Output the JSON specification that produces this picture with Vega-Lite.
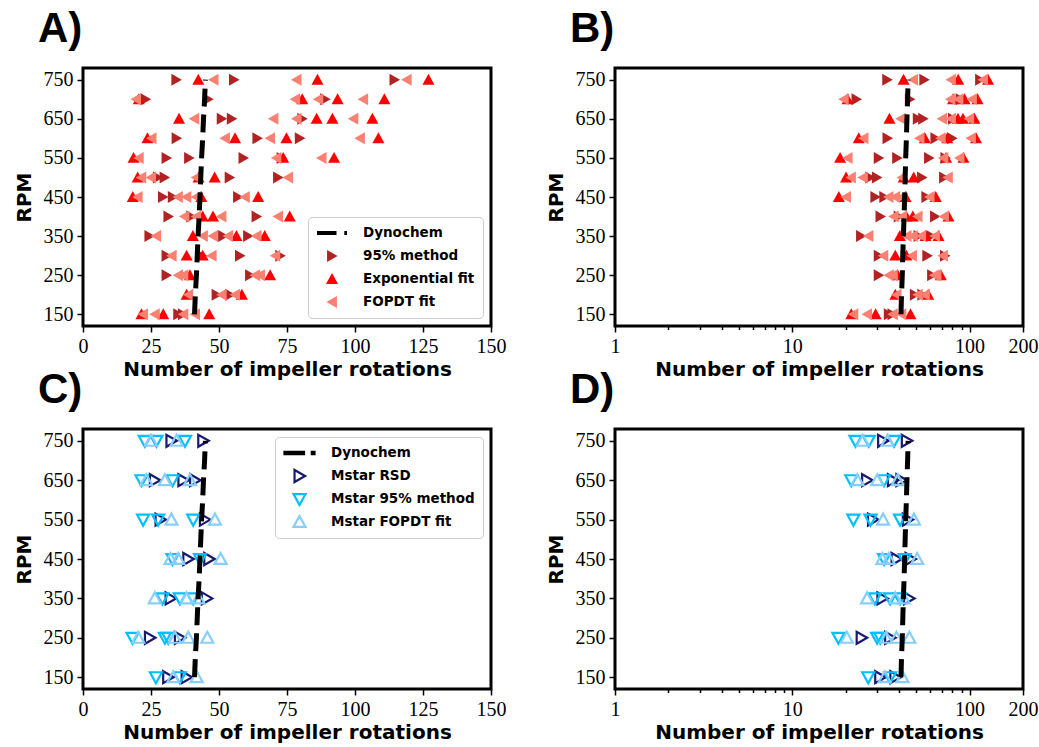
{
  "$schema": "https://vega.github.io/schema/vega-lite/v6.json",
  "background": "white",
  "padding": {"left": 12, "top": 6, "right": 5, "bottom": 3},
  "datasets": {
    "red": [
      {"rpm": 750, "n": 34.3, "m": "95% method"}, {"rpm": 750, "n": 55.5, "m": "95% method"}, {"rpm": 750, "n": 114.5, "m": "95% method"},
      {"rpm": 700, "n": 23, "m": "95% method"}, {"rpm": 700, "n": 46, "m": "95% method"}, {"rpm": 700, "n": 89, "m": "95% method"},
      {"rpm": 650, "n": 51, "m": "95% method"}, {"rpm": 650, "n": 54.7, "m": "95% method"}, {"rpm": 650, "n": 80.6, "m": "95% method"},
      {"rpm": 600, "n": 34.4, "m": "95% method"}, {"rpm": 600, "n": 64.1, "m": "95% method"}, {"rpm": 600, "n": 79.7, "m": "95% method"},
      {"rpm": 550, "n": 30.7, "m": "95% method"}, {"rpm": 550, "n": 39, "m": "95% method"}, {"rpm": 550, "n": 59, "m": "95% method"}, {"rpm": 550, "n": 73, "m": "95% method"},
      {"rpm": 500, "n": 27.5, "m": "95% method"}, {"rpm": 500, "n": 30, "m": "95% method"}, {"rpm": 500, "n": 53.9, "m": "95% method"}, {"rpm": 500, "n": 71.7, "m": "95% method"},
      {"rpm": 450, "n": 29.4, "m": "95% method"}, {"rpm": 450, "n": 33, "m": "95% method"}, {"rpm": 450, "n": 57, "m": "95% method"},
      {"rpm": 400, "n": 31.4, "m": "95% method"}, {"rpm": 400, "n": 39.8, "m": "95% method"}, {"rpm": 400, "n": 63.8, "m": "95% method"},
      {"rpm": 350, "n": 24.4, "m": "95% method"}, {"rpm": 350, "n": 51.5, "m": "95% method"}, {"rpm": 350, "n": 60.7, "m": "95% method"},
      {"rpm": 300, "n": 30.7, "m": "95% method"}, {"rpm": 300, "n": 43.6, "m": "95% method"}, {"rpm": 300, "n": 57.7, "m": "95% method"}, {"rpm": 300, "n": 72.5, "m": "95% method"},
      {"rpm": 250, "n": 30.7, "m": "95% method"}, {"rpm": 250, "n": 61.4, "m": "95% method"},
      {"rpm": 200, "n": 49.1, "m": "95% method"}, {"rpm": 200, "n": 54.1, "m": "95% method"},
      {"rpm": 150, "n": 35, "m": "95% method"}, {"rpm": 150, "n": 36.7, "m": "95% method"},

      {"rpm": 750, "n": 42.4, "m": "Exponential fit"}, {"rpm": 750, "n": 86.2, "m": "Exponential fit"}, {"rpm": 750, "n": 127, "m": "Exponential fit"},
      {"rpm": 700, "n": 20.5, "m": "Exponential fit"}, {"rpm": 700, "n": 80.6, "m": "Exponential fit"}, {"rpm": 700, "n": 93.6, "m": "Exponential fit"}, {"rpm": 700, "n": 110.8, "m": "Exponential fit"},
      {"rpm": 650, "n": 35.3, "m": "Exponential fit"}, {"rpm": 650, "n": 85.9, "m": "Exponential fit"}, {"rpm": 650, "n": 91.7, "m": "Exponential fit"}, {"rpm": 650, "n": 106.4, "m": "Exponential fit"},
      {"rpm": 600, "n": 23.7, "m": "Exponential fit"}, {"rpm": 600, "n": 55.9, "m": "Exponential fit"}, {"rpm": 600, "n": 74.8, "m": "Exponential fit"}, {"rpm": 600, "n": 108.6, "m": "Exponential fit"},
      {"rpm": 550, "n": 18.6, "m": "Exponential fit"}, {"rpm": 550, "n": 73.6, "m": "Exponential fit"}, {"rpm": 550, "n": 92.3, "m": "Exponential fit"},
      {"rpm": 500, "n": 20.1, "m": "Exponential fit"}, {"rpm": 500, "n": 42.5, "m": "Exponential fit"}, {"rpm": 500, "n": 48.4, "m": "Exponential fit"},
      {"rpm": 450, "n": 18.3, "m": "Exponential fit"}, {"rpm": 450, "n": 43.5, "m": "Exponential fit"}, {"rpm": 450, "n": 64.4, "m": "Exponential fit"},
      {"rpm": 400, "n": 44, "m": "Exponential fit"}, {"rpm": 400, "n": 47.8, "m": "Exponential fit"}, {"rpm": 400, "n": 76, "m": "Exponential fit"},
      {"rpm": 350, "n": 40.4, "m": "Exponential fit"}, {"rpm": 350, "n": 56.4, "m": "Exponential fit"}, {"rpm": 350, "n": 66.8, "m": "Exponential fit"},
      {"rpm": 300, "n": 38.1, "m": "Exponential fit"}, {"rpm": 300, "n": 44, "m": "Exponential fit"},
      {"rpm": 250, "n": 39.3, "m": "Exponential fit"}, {"rpm": 250, "n": 68.8, "m": "Exponential fit"},
      {"rpm": 200, "n": 38.1, "m": "Exponential fit"}, {"rpm": 200, "n": 58.4, "m": "Exponential fit"},
      {"rpm": 150, "n": 21.5, "m": "Exponential fit"}, {"rpm": 150, "n": 29.5, "m": "Exponential fit"}, {"rpm": 150, "n": 46.4, "m": "Exponential fit"},

      {"rpm": 750, "n": 48, "m": "FOPDT fit"}, {"rpm": 750, "n": 78.5, "m": "FOPDT fit"}, {"rpm": 750, "n": 119, "m": "FOPDT fit"},
      {"rpm": 700, "n": 19.5, "m": "FOPDT fit"}, {"rpm": 700, "n": 78, "m": "FOPDT fit"}, {"rpm": 700, "n": 86.5, "m": "FOPDT fit"}, {"rpm": 700, "n": 103, "m": "FOPDT fit"},
      {"rpm": 650, "n": 40.9, "m": "FOPDT fit"}, {"rpm": 650, "n": 70, "m": "FOPDT fit"}, {"rpm": 650, "n": 78.5, "m": "FOPDT fit"}, {"rpm": 650, "n": 99.4, "m": "FOPDT fit"},
      {"rpm": 600, "n": 25.2, "m": "FOPDT fit"}, {"rpm": 600, "n": 52.2, "m": "FOPDT fit"}, {"rpm": 600, "n": 68.8, "m": "FOPDT fit"}, {"rpm": 600, "n": 101.8, "m": "FOPDT fit"},
      {"rpm": 550, "n": 20.5, "m": "FOPDT fit"}, {"rpm": 550, "n": 71.1, "m": "FOPDT fit"}, {"rpm": 550, "n": 87.7, "m": "FOPDT fit"},
      {"rpm": 500, "n": 21.4, "m": "FOPDT fit"}, {"rpm": 500, "n": 25, "m": "FOPDT fit"}, {"rpm": 500, "n": 41.6, "m": "FOPDT fit"}, {"rpm": 500, "n": 75.4, "m": "FOPDT fit"},
      {"rpm": 450, "n": 20.1, "m": "FOPDT fit"}, {"rpm": 450, "n": 34.9, "m": "FOPDT fit"}, {"rpm": 450, "n": 38, "m": "FOPDT fit"}, {"rpm": 450, "n": 41.6, "m": "FOPDT fit"}, {"rpm": 450, "n": 59.5, "m": "FOPDT fit"},
      {"rpm": 400, "n": 37.3, "m": "FOPDT fit"}, {"rpm": 400, "n": 41.6, "m": "FOPDT fit"}, {"rpm": 400, "n": 50.9, "m": "FOPDT fit"}, {"rpm": 400, "n": 71.7, "m": "FOPDT fit"},
      {"rpm": 350, "n": 26.9, "m": "FOPDT fit"}, {"rpm": 350, "n": 44.1, "m": "FOPDT fit"}, {"rpm": 350, "n": 47.8, "m": "FOPDT fit"}, {"rpm": 350, "n": 53.3, "m": "FOPDT fit"}, {"rpm": 350, "n": 63.8, "m": "FOPDT fit"},
      {"rpm": 300, "n": 32.6, "m": "FOPDT fit"}, {"rpm": 300, "n": 47.3, "m": "FOPDT fit"}, {"rpm": 300, "n": 70.7, "m": "FOPDT fit"},
      {"rpm": 250, "n": 35, "m": "FOPDT fit"}, {"rpm": 250, "n": 36.9, "m": "FOPDT fit"}, {"rpm": 250, "n": 63.3, "m": "FOPDT fit"}, {"rpm": 250, "n": 65.1, "m": "FOPDT fit"},
      {"rpm": 200, "n": 38.7, "m": "FOPDT fit"}, {"rpm": 200, "n": 51, "m": "FOPDT fit"}, {"rpm": 200, "n": 55.9, "m": "FOPDT fit"},
      {"rpm": 150, "n": 22.1, "m": "FOPDT fit"}, {"rpm": 150, "n": 26.4, "m": "FOPDT fit"}, {"rpm": 150, "n": 36.9, "m": "FOPDT fit"}, {"rpm": 150, "n": 41.2, "m": "FOPDT fit"}
    ],
    "blue": [
      {"rpm": 750, "n": 32.5, "m": "Mstar RSD"}, {"rpm": 750, "n": 44.2, "m": "Mstar RSD"},
      {"rpm": 650, "n": 26.4, "m": "Mstar RSD"}, {"rpm": 650, "n": 36.9, "m": "Mstar RSD"}, {"rpm": 650, "n": 41.2, "m": "Mstar RSD"},
      {"rpm": 550, "n": 28.5, "m": "Mstar RSD"}, {"rpm": 550, "n": 44.8, "m": "Mstar RSD"},
      {"rpm": 450, "n": 38.7, "m": "Mstar RSD"}, {"rpm": 450, "n": 46.4, "m": "Mstar RSD"},
      {"rpm": 350, "n": 32.2, "m": "Mstar RSD"}, {"rpm": 350, "n": 45.5, "m": "Mstar RSD"},
      {"rpm": 250, "n": 24.6, "m": "Mstar RSD"}, {"rpm": 250, "n": 35.6, "m": "Mstar RSD"},
      {"rpm": 150, "n": 31.3, "m": "Mstar RSD"}, {"rpm": 150, "n": 38.1, "m": "Mstar RSD"},

      {"rpm": 750, "n": 22.7, "m": "Mstar 95% method"}, {"rpm": 750, "n": 27, "m": "Mstar 95% method"}, {"rpm": 750, "n": 37.5, "m": "Mstar 95% method"},
      {"rpm": 650, "n": 21.5, "m": "Mstar 95% method"}, {"rpm": 650, "n": 32.9, "m": "Mstar 95% method"},
      {"rpm": 550, "n": 22.1, "m": "Mstar 95% method"}, {"rpm": 550, "n": 27.6, "m": "Mstar 95% method"}, {"rpm": 550, "n": 40.5, "m": "Mstar 95% method"},
      {"rpm": 450, "n": 32.9, "m": "Mstar 95% method"}, {"rpm": 450, "n": 43, "m": "Mstar 95% method"},
      {"rpm": 350, "n": 29.2, "m": "Mstar 95% method"}, {"rpm": 350, "n": 35.6, "m": "Mstar 95% method"}, {"rpm": 350, "n": 40.5, "m": "Mstar 95% method"},
      {"rpm": 250, "n": 18.2, "m": "Mstar 95% method"}, {"rpm": 250, "n": 30.1, "m": "Mstar 95% method"}, {"rpm": 250, "n": 31.3, "m": "Mstar 95% method"},
      {"rpm": 150, "n": 26.8, "m": "Mstar 95% method"}, {"rpm": 150, "n": 35.6, "m": "Mstar 95% method"},

      {"rpm": 750, "n": 25, "m": "Mstar FOPDT fit"}, {"rpm": 750, "n": 34.4, "m": "Mstar FOPDT fit"},
      {"rpm": 650, "n": 23.3, "m": "Mstar FOPDT fit"}, {"rpm": 650, "n": 30.1, "m": "Mstar FOPDT fit"}, {"rpm": 650, "n": 39.3, "m": "Mstar FOPDT fit"},
      {"rpm": 550, "n": 32.5, "m": "Mstar FOPDT fit"}, {"rpm": 550, "n": 48.5, "m": "Mstar FOPDT fit"},
      {"rpm": 450, "n": 32.2, "m": "Mstar FOPDT fit"}, {"rpm": 450, "n": 35, "m": "Mstar FOPDT fit"}, {"rpm": 450, "n": 50.6, "m": "Mstar FOPDT fit"},
      {"rpm": 350, "n": 26.4, "m": "Mstar FOPDT fit"}, {"rpm": 350, "n": 38.1, "m": "Mstar FOPDT fit"}, {"rpm": 350, "n": 42.4, "m": "Mstar FOPDT fit"},
      {"rpm": 250, "n": 20.3, "m": "Mstar FOPDT fit"}, {"rpm": 250, "n": 33.8, "m": "Mstar FOPDT fit"}, {"rpm": 250, "n": 38.7, "m": "Mstar FOPDT fit"}, {"rpm": 250, "n": 45.7, "m": "Mstar FOPDT fit"},
      {"rpm": 150, "n": 33.2, "m": "Mstar FOPDT fit"}, {"rpm": 150, "n": 41.8, "m": "Mstar FOPDT fit"}
    ],
    "dyn": [
      {"rpm": 150, "n": 41}, {"rpm": 200, "n": 41.3}, {"rpm": 250, "n": 41.7}, {"rpm": 300, "n": 42},
      {"rpm": 350, "n": 42.3}, {"rpm": 400, "n": 42.7}, {"rpm": 450, "n": 43}, {"rpm": 500, "n": 43.3},
      {"rpm": 550, "n": 43.6}, {"rpm": 600, "n": 44}, {"rpm": 650, "n": 44.3}, {"rpm": 700, "n": 44.7}, {"rpm": 750, "n": 45}
    ]
  },
  "columns": 2,
  "spacing": {"row": 103, "column": 124},
  "bounds": "flush",
  "resolve": {"scale": {"x": "independent", "y": "independent", "color": "independent", "shape": "independent"}, "legend": {"color": "independent", "shape": "independent"}},
  "concat": [
    {
      "title": {"text": "A)"},
      "width": 408, "height": 258,
      "layer": [
        {
          "data": {"name": "red"},
          "mark": {"type": "point", "filled": true, "size": 900, "opacity": 1},
          "encoding": {
            "x": {"field": "n", "type": "quantitative", "scale": {"domain": [0, 150], "nice": false}, "axis": {"values": [0, 25, 50, 75, 100, 125, 150], "title": "Number of impeller rotations"}},
            "y": {"field": "rpm", "type": "quantitative", "scale": {"domain": [120, 780], "nice": false, "zero": false}, "axis": {"values": [150, 250, 350, 450, 550, 650, 750], "title": "RPM"}},
            "color": {"field": "m", "type": "nominal", "sort": null, "scale": {"domain": ["Dynochem", "95% method", "Exponential fit", "FOPDT fit"], "range": ["black", "#B22222", "#FF0000", "#FA8072"]}, "legend": {"title": null, "orient": "bottom-right", "offset": 8}},
            "shape": {"field": "m", "type": "nominal", "sort": null, "scale": {"domain": ["Dynochem", "95% method", "Exponential fit", "FOPDT fit"], "range": ["M-1,-0.14H0.3V0.14H-1Z M0.82,-0.14H1V0.14H0.82Z", "M0.37,0L-0.33,-0.4L-0.33,0.4Z", "M0,-0.4L0.4,0.33L-0.4,0.33Z", "M-0.37,0L0.33,-0.4L0.33,0.4Z"]}, "legend": {"title": null, "orient": "bottom-right", "offset": 8}}
          }
        },
        {
          "data": {"name": "dyn"},
          "mark": {"type": "line", "color": "black", "strokeWidth": 5, "strokeDash": [18, 8], "strokeCap": "butt"},
          "encoding": {"x": {"field": "n", "type": "quantitative"}, "y": {"field": "rpm", "type": "quantitative"}, "order": {"field": "rpm", "type": "quantitative"}}
        }
      ]
    },
    {
      "title": {"text": "B)"},
      "width": 408, "height": 258,
      "layer": [
        {
          "data": {"name": "red"},
          "mark": {"type": "point", "filled": true, "size": 900, "opacity": 1},
          "encoding": {
            "x": {"field": "n", "type": "quantitative", "scale": {"type": "log", "domain": [1, 200], "nice": false}, "axis": {"values": [1, 2, 3, 4, 5, 6, 7, 8, 9, 10, 20, 30, 40, 50, 60, 70, 80, 90, 100, 200], "format": "d", "labelExpr": "indexof([1,10,100,200], datum.value) >= 0 ? datum.label : ''", "tickSize": {"condition": {"test": "indexof([1,10,100,200], datum.value) >= 0", "value": 6}, "value": 3.5}, "title": "Number of impeller rotations"}},
            "y": {"field": "rpm", "type": "quantitative", "scale": {"domain": [120, 780], "nice": false, "zero": false}, "axis": {"values": [150, 250, 350, 450, 550, 650, 750], "title": "RPM"}},
            "color": {"field": "m", "type": "nominal", "sort": null, "scale": {"domain": ["Dynochem", "95% method", "Exponential fit", "FOPDT fit"], "range": ["black", "#B22222", "#FF0000", "#FA8072"]}, "legend": null},
            "shape": {"field": "m", "type": "nominal", "sort": null, "scale": {"domain": ["Dynochem", "95% method", "Exponential fit", "FOPDT fit"], "range": ["M-1,-0.14H0.3V0.14H-1Z M0.82,-0.14H1V0.14H0.82Z", "M0.37,0L-0.33,-0.4L-0.33,0.4Z", "M0,-0.4L0.4,0.33L-0.4,0.33Z", "M-0.37,0L0.33,-0.4L0.33,0.4Z"]}, "legend": null}
          }
        },
        {
          "data": {"name": "dyn"},
          "mark": {"type": "line", "color": "black", "strokeWidth": 5, "strokeDash": [18, 8], "strokeCap": "butt"},
          "encoding": {"x": {"field": "n", "type": "quantitative"}, "y": {"field": "rpm", "type": "quantitative"}, "order": {"field": "rpm", "type": "quantitative"}}
        }
      ]
    },
    {
      "title": {"text": "C)"},
      "width": 408, "height": 260,
      "layer": [
        {
          "data": {"name": "blue"},
          "mark": {"type": "point", "filled": false, "size": 900, "opacity": 1, "strokeWidth": 2.2},
          "encoding": {
            "x": {"field": "n", "type": "quantitative", "scale": {"domain": [0, 150], "nice": false}, "axis": {"values": [0, 25, 50, 75, 100, 125, 150], "title": "Number of impeller rotations"}},
            "y": {"field": "rpm", "type": "quantitative", "scale": {"domain": [120, 780], "nice": false, "zero": false}, "axis": {"values": [150, 250, 350, 450, 550, 650, 750], "title": "RPM"}},
            "color": {"field": "m", "type": "nominal", "sort": null, "scale": {"domain": ["Dynochem", "Mstar RSD", "Mstar 95% method", "Mstar FOPDT fit"], "range": ["black", "#191970", "#00BFFF", "#87CEFA"]}, "legend": {"title": null, "orient": "top-right", "offset": 8, "symbolStrokeWidth": 2.2}},
            "shape": {"field": "m", "type": "nominal", "sort": null, "scale": {"domain": ["Dynochem", "Mstar RSD", "Mstar 95% method", "Mstar FOPDT fit"], "range": ["M-1,-0.07H0.3V0.07H-1Z M0.82,-0.07H1V0.07H0.82Z", "M0.37,0L-0.33,-0.4L-0.33,0.4Z", "M0,0.4L0.4,-0.33L-0.4,-0.33Z", "M0,-0.4L0.4,0.33L-0.4,0.33Z"]}, "legend": {"title": null, "orient": "top-right", "offset": 8, "symbolStrokeWidth": 2.2}}
          }
        },
        {
          "data": {"name": "dyn"},
          "mark": {"type": "line", "color": "black", "strokeWidth": 5, "strokeDash": [18, 8], "strokeCap": "butt"},
          "encoding": {"x": {"field": "n", "type": "quantitative"}, "y": {"field": "rpm", "type": "quantitative"}, "order": {"field": "rpm", "type": "quantitative"}}
        }
      ]
    },
    {
      "title": {"text": "D)"},
      "width": 408, "height": 260,
      "layer": [
        {
          "data": {"name": "blue"},
          "mark": {"type": "point", "filled": false, "size": 900, "opacity": 1, "strokeWidth": 2.2},
          "encoding": {
            "x": {"field": "n", "type": "quantitative", "scale": {"type": "log", "domain": [1, 200], "nice": false}, "axis": {"values": [1, 2, 3, 4, 5, 6, 7, 8, 9, 10, 20, 30, 40, 50, 60, 70, 80, 90, 100, 200], "format": "d", "labelExpr": "indexof([1,10,100,200], datum.value) >= 0 ? datum.label : ''", "tickSize": {"condition": {"test": "indexof([1,10,100,200], datum.value) >= 0", "value": 6}, "value": 3.5}, "title": "Number of impeller rotations"}},
            "y": {"field": "rpm", "type": "quantitative", "scale": {"domain": [120, 780], "nice": false, "zero": false}, "axis": {"values": [150, 250, 350, 450, 550, 650, 750], "title": "RPM"}},
            "color": {"field": "m", "type": "nominal", "sort": null, "scale": {"domain": ["Dynochem", "Mstar RSD", "Mstar 95% method", "Mstar FOPDT fit"], "range": ["black", "#191970", "#00BFFF", "#87CEFA"]}, "legend": null},
            "shape": {"field": "m", "type": "nominal", "sort": null, "scale": {"domain": ["Dynochem", "Mstar RSD", "Mstar 95% method", "Mstar FOPDT fit"], "range": ["M-1,-0.07H0.3V0.07H-1Z M0.82,-0.07H1V0.07H0.82Z", "M0.37,0L-0.33,-0.4L-0.33,0.4Z", "M0,0.4L0.4,-0.33L-0.4,-0.33Z", "M0,-0.4L0.4,0.33L-0.4,0.33Z"]}, "legend": null}
          }
        },
        {
          "data": {"name": "dyn"},
          "mark": {"type": "line", "color": "black", "strokeWidth": 5, "strokeDash": [18, 8], "strokeCap": "butt"},
          "encoding": {"x": {"field": "n", "type": "quantitative"}, "y": {"field": "rpm", "type": "quantitative"}, "order": {"field": "rpm", "type": "quantitative"}}
        }
      ]
    }
  ],
  "config": {
    "font": "DejaVu Sans",
    "view": {"stroke": "black", "strokeWidth": 3},
    "axis": {"domain": false, "grid": false, "labelFont": "Liberation Serif", "labelFontSize": 20, "labelColor": "black", "titleFont": "DejaVu Sans", "titleFontSize": 20, "titleFontWeight": "bold", "titleColor": "black", "tickColor": "black", "tickWidth": 1.5, "tickSize": 6, "labelPadding": 4, "titlePadding": 3, "labelFlush": false, "labelOverlap": false},
    "axisY": {"titlePadding": 9, "labelPadding": 4},
    "legend": {"labelFont": "DejaVu Sans", "labelFontWeight": "bold", "labelFontSize": 13.5, "labelColor": "black", "symbolSize": 900, "clipHeight": 16, "rowPadding": 7, "padding": 8, "labelOffset": 15, "fillColor": "rgba(255,255,255,0.8)", "strokeColor": "#cccccc", "cornerRadius": 4},
    "title": {"font": "Liberation Sans", "fontWeight": "bold", "fontSize": 42, "anchor": "start", "frame": "group", "dx": -45, "offset": 17, "baseline": "alphabetic", "color": "black"}
  }
}
